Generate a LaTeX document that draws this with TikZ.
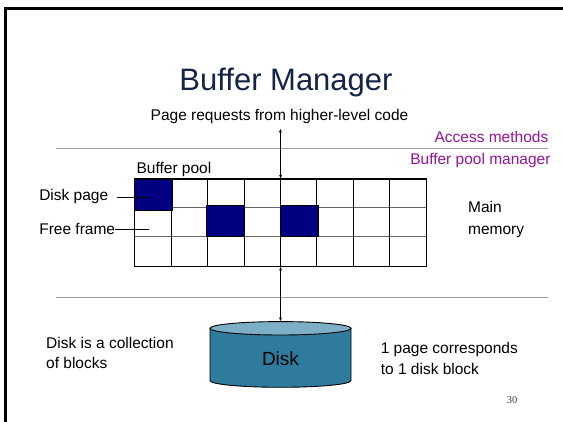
\documentclass[tikz,border=0pt]{standalone}
\usepackage{fontspec}
\setmainfont{Liberation Sans}
\newfontfamily\numfont{Liberation Serif}
\usetikzlibrary{arrows.meta}
\definecolor{titlecol}{RGB}{20,35,70}
\definecolor{purp}{RGB}{150,20,150}
\definecolor{navy}{RGB}{0,0,128}
\definecolor{diskbody}{RGB}{46,123,158}
\definecolor{disktop}{RGB}{125,175,200}
\tikzset{
  lbl/.style={font=\fontsize{15.5}{18}\selectfont, inner sep=0pt},
  purplbl/.style={lbl, text=purp},
  sep/.style={draw=gray!75, line width=1pt},
  dbl/.style={{Latex[length=4pt,width=3pt]}-{Latex[length=4pt,width=3pt]}, line width=0.8pt},
  bluecell/.style={fill=navy, draw=black, line width=0.6pt},
  hline/.style={draw=gray!80!black, line width=1pt},
  vline/.style={draw=black, line width=0.8pt},
  leader/.style={draw=black, line width=0.8pt}
}
\begin{document}
\begin{tikzpicture}[x=1pt,y=-1pt]
\useasboundingbox (0,0) rectangle (563,422);
\fill[white] (0,0) rectangle (563,422);
% slide frame
\draw[line width=2.5pt] (5.7,422) -- (5.7,8.7) -- (563,8.7);
% title
\node[inner sep=0pt, anchor=base, text=titlecol, font=\fontsize{31}{36}\selectfont] (title) at (286,90.7) {Buffer Manager};
\node[lbl, anchor=base] (req) at (279.5,120.7) {Page requests from higher-level code};
\node[purplbl, anchor=base east] (acc) at (548.5,142.7) {Access methods};
\node[purplbl, anchor=base east] (bpm) at (550.7,164.3) {Buffer pool manager};
\draw[sep] (55.6,148.7) -- (547.6,148.7);
\draw[sep] (55.6,297.5) -- (547.6,297.5);
% buffer pool grid
\node[lbl, anchor=base west] (bp) at (136.4,173.3) {Buffer pool};
\node[inner sep=0pt, minimum width=291.6pt, minimum height=87pt, anchor=north west] (pool) at (134.6,179) {};
\foreach \yy in {207.7,236.7} \draw[hline] (134.6,\yy) -- (426.2,\yy);
\foreach \i in {1,...,7} \draw[vline] (134.6+36.45*\i,179) -- (134.6+36.45*\i,265.7);
\draw[bluecell] (134.6,179) rectangle (172.7,210.7);
\draw[bluecell] (206.5,205) rectangle (244,236.7);
\draw[bluecell] (280.4,205) rectangle (317.8,236.7);
\draw[line width=1.5pt] (pool.north west) rectangle (pool.south east);
% left labels
\node[lbl, anchor=base west] (dp) at (39.1,201) {Disk page};
\node[lbl, anchor=base west] (ff) at (39.1,235) {Free frame};
\coordinate (dpend) at (149,195);
\coordinate (ffend) at (149,227.7);
\draw[leader] ([xshift=8.5pt]dp.east) -- (dp.east -| dpend);
\draw[leader] (ff.east) -- (ff.east -| ffend);
% right labels
\node[lbl, anchor=base west] (mm1) at (467.9,212.7) {Main};
\node[lbl, anchor=base west] (mm2) at (467.9,235) {memory};
% disk
\path[fill=diskbody, draw=black, line width=0.9pt] (210,328.3) -- (210,380.6) arc[start angle=180, end angle=360, x radius=70.5pt, y radius=6.7pt] -- (351,328.3) -- cycle;
\draw[fill=disktop, line width=0.9pt] (280.5,328.3) ellipse [x radius=70.5pt, y radius=6.7pt];
\coordinate (disktop) at (280.5,321.6);
\node[inner sep=0pt, anchor=base, font=\fontsize{19}{22}\selectfont] (disk) at (280.5,365.7) {Disk};
% arrows
\coordinate (reqtip) at (280.4,128.3);
\draw[dbl] (reqtip) -- (pool.north);
\draw[dbl] (pool.south) -- (disktop);
% bottom labels
\node[lbl, anchor=base west] (dc1) at (46,348.3) {Disk is a collection};
\node[lbl, anchor=base west] (dc2) at (46,369) {of blocks};
\node[lbl, anchor=base west] (pc1) at (380.6,353.3) {1 page corresponds};
\node[lbl, anchor=base west] (pc2) at (380.6,375) {to 1 disk block};
\node[inner sep=0pt, anchor=base west, font=\numfont\fontsize{10.5}{12}\selectfont, text=black!75] (num) at (506.7,404) {30};
\end{tikzpicture}
\end{document}
